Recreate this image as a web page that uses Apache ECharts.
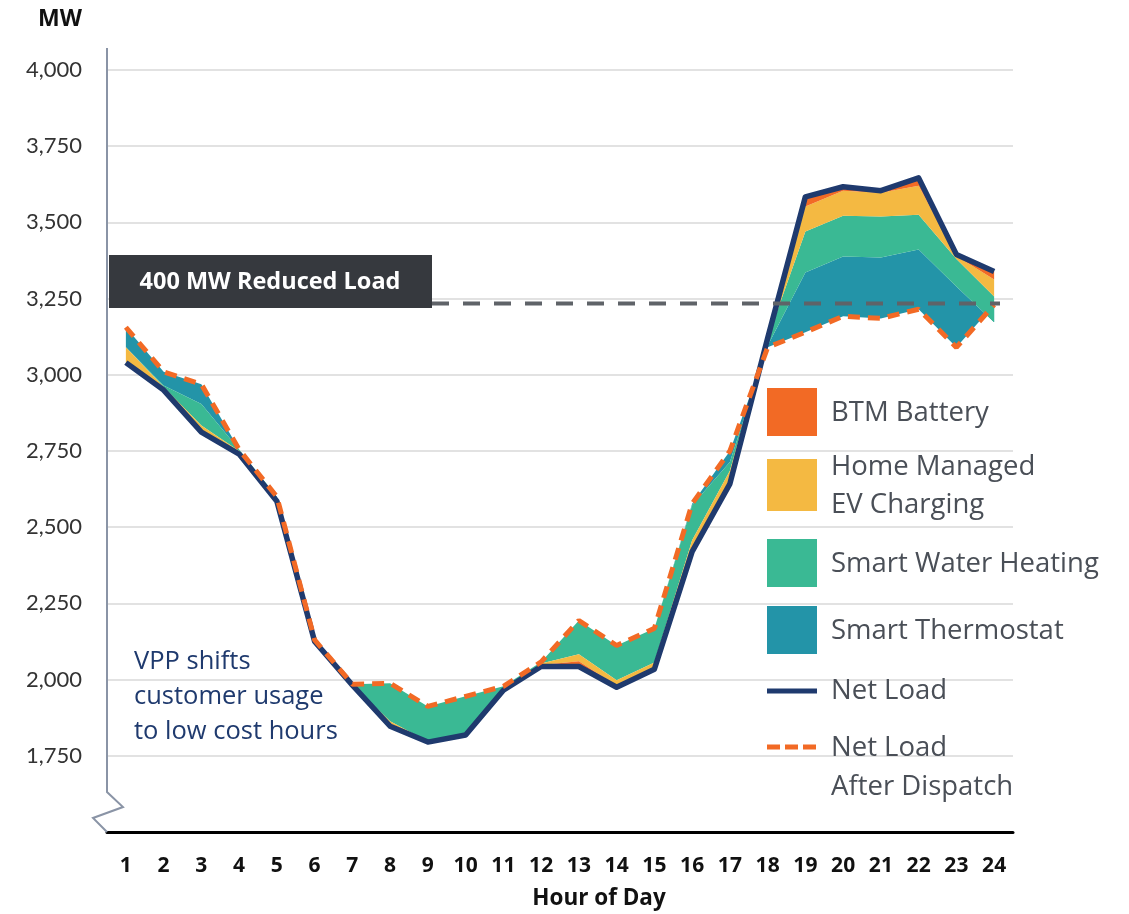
<!DOCTYPE html>
<html>
<head>
<meta charset="utf-8">
<title>VPP Net Load</title>
<script src="https://cdn.jsdelivr.net/npm/echarts@6/dist/echarts.min.js"></script>
<style>
  html, body { margin: 0; padding: 0; background: #fff; }
  #chart { width: 1129px; height: 914px; }
</style>
</head>
<body>
<div id="chart"></div>
<script>
// hours of the day
const hours = ['1','2','3','4','5','6','7','8','9','10','11','12','13','14','15','16','17','18','19','20','21','22','23','24'];
// MW
const netLoad       = [3040, 2950, 2812, 2740, 2585, 2125, 1982, 1847, 1795, 1818, 1965, 2043, 2043, 1975, 2034, 2420, 2642, 3120, 3584, 3617, 3604, 3646, 3395, 3339];
const afterDispatch = [3156, 3010, 2969, 2755, 2600, 2130, 1985, 1988, 1912, 1945, 1978, 2058, 2194, 2112, 2168, 2577, 2750, 3090, 3140, 3192, 3185, 3215, 3090, 3230];
// signed contributions, stacked from the after-dispatch line up/down to net load
const thermostat   = [-66, -45, -65,   0,   0,  0,  0,    0,    0,    0,   0,  0,    0,    0,    0,   -5, -36,  5, 196, 196, 200, 196, 200, -58];
const waterHeating = [  0,  -5, -70,  -5,  -5, -5, -3, -125, -115, -127, -13, -5, -111, -114, -112, -115, -29, 25, 134, 134, 134, 114,  90,  85];
const evCharging   = [-50, -10, -22, -10, -10,  0,  0,   -8,   -2,    0,   0, -5,  -23,  -18,  -17,  -32, -33,  0,  82,  82,  78,  95,  10,  56];
const btmBattery   = [  0,   0,   0,   0,   0,  0,  0,   -8,    0,    0,   0, -5,  -17,   -5,   -5,   -5, -10,  0,  32,  13,   7,  26,   5,  26];
const reducedLevel = 3234;

const C = {
  battery: '#f26a25',
  ev: '#f4b942',
  water: '#3ab994',
  thermo: '#2394a8',
  net: '#1f3a6e',
  after: '#f26a25'
};

const chart = echarts.init(document.getElementById('chart'));

function areaSeries(name, data, color) {
  return {
    name: name,
    type: 'line',
    data: data,
    stack: 'vpp',
    stackStrategy: 'all',
    symbol: 'none',
    lineStyle: { width: 0 },
    areaStyle: { color: color, opacity: 1 },
    emphasis: { disabled: true },
    z: 2
  };
}

const option = {
  animation: false,
  backgroundColor: '#fff',
  grid: { left: 107, right: 116, top: 70, bottom: 82 },
  xAxis: {
    type: 'category',
    data: hours,
    boundaryGap: true,
    axisLine: { lineStyle: { color: '#000', width: 3 } },
    axisTick: { show: false },
    axisLabel: { margin: 24, color: '#111', fontSize: 21, fontWeight: 'bold', fontFamily: 'Open Sans' },
    splitLine: { show: false }
  },
  yAxis: {
    type: 'value',
    min: 1500,
    max: 4000,
    interval: 250,
    axisLine: { show: false },
    axisTick: { show: false },
    axisLabel: {
      margin: 25,
      color: '#333',
      fontSize: 22,
      fontFamily: 'Lato',
      formatter: function (v) { return v === 1500 ? '' : v.toLocaleString('en-US'); }
    },
    splitLine: { lineStyle: { color: '#e2e2e2', width: 2 } }
  },
  series: [
    {
      name: 'base',
      type: 'line',
      data: afterDispatch,
      stack: 'vpp',
      stackStrategy: 'all',
      symbol: 'none',
      lineStyle: { opacity: 0 },
      silent: true
    },
    areaSeries('Smart Thermostat', thermostat, C.thermo),
    areaSeries('Smart Water Heating', waterHeating, C.water),
    areaSeries('Home Managed EV Charging', evCharging, C.ev),
    areaSeries('BTM Battery', btmBattery, C.battery),
    {
      name: 'Net Load',
      type: 'line',
      data: netLoad,
      symbol: 'none',
      lineStyle: { color: C.net, width: 5.5, join: 'round' },
      z: 3
    },
    {
      name: 'Net Load After Dispatch',
      type: 'line',
      data: afterDispatch,
      symbol: 'none',
      lineStyle: { color: C.after, width: 5, type: [12, 8] },
      z: 4
    }
  ]
};

chart.setOption(option);

// annotation, custom axis line with break, legend
const yRef = chart.convertToPixel({ yAxisIndex: 0 }, reducedLevel);
const legendFont = '27.5px "Open Sans"';
const legendColor = '#4a4f57';
const noteFont = '25.5px "Open Sans"';

function swatch(y1, y2, color) {
  return { type: 'rect', shape: { x: 767, y: y1, width: 50, height: y2 - y1 }, style: { fill: color }, z: 100 };
}
function ltext(y, txt) {
  return { type: 'text', x: 831, y: y, style: { text: txt, font: legendFont, fill: legendColor, textVerticalAlign: 'middle' }, z: 100 };
}

chart.setOption({
  graphic: [
    // y axis line with break
    { type: 'polyline', shape: { points: [[107, 48], [107, 792], [123, 807], [93, 818], [107, 832]] },
      style: { stroke: '#8a94a6', lineWidth: 2, fill: null }, z: 100 },
    { type: 'text', x: 60, y: 19, style: { text: 'MW', font: 'bold 23px "Open Sans"', fill: '#111', textAlign: 'center', textVerticalAlign: 'middle' }, z: 100 },
    // reduced load marker
    { type: 'line', shape: { x1: 432, y1: yRef, x2: 1000, y2: yRef },
      style: { stroke: '#5f6368', lineWidth: 4, lineDash: [17, 14] }, z: 100 },
    { type: 'rect', shape: { x: 109, y: 255, width: 323, height: 53 }, style: { fill: '#36393e' }, z: 100 },
    { type: 'text', x: 270, y: 282, style: { text: '400 MW Reduced Load', font: 'bold 23.5px "Open Sans"', fill: '#fff', textAlign: 'center', textVerticalAlign: 'middle' }, z: 101 },
    // VPP note
    { type: 'text', x: 134, y: 662, style: { text: 'VPP shifts', font: noteFont, fill: C.net, textVerticalAlign: 'middle' }, z: 100 },
    { type: 'text', x: 134, y: 697, style: { text: 'customer usage', font: noteFont, fill: C.net, textVerticalAlign: 'middle' }, z: 100 },
    { type: 'text', x: 134, y: 732, style: { text: 'to low cost hours', font: noteFont, fill: C.net, textVerticalAlign: 'middle' }, z: 100 },
    // x axis name
    { type: 'text', x: 599, y: 899, style: { text: 'Hour of Day', font: 'bold 22.5px "Open Sans"', fill: '#111', textAlign: 'center', textVerticalAlign: 'middle' }, z: 100 },
    // legend
    swatch(388, 436, C.battery), ltext(413, 'BTM Battery'),
    swatch(459, 511, C.ev), ltext(467, 'Home Managed'), ltext(505, 'EV Charging'),
    swatch(539, 587, C.water), ltext(564, 'Smart Water Heating'),
    swatch(606, 654, C.thermo), ltext(631, 'Smart Thermostat'),
    { type: 'line', shape: { x1: 767, y1: 691, x2: 817, y2: 691 }, style: { stroke: C.net, lineWidth: 5 }, z: 100 },
    ltext(691, 'Net Load'),
    { type: 'line', shape: { x1: 767, y1: 747, x2: 817, y2: 747 }, style: { stroke: C.after, lineWidth: 5, lineDash: [13, 5] }, z: 100 },
    ltext(748, 'Net Load'), ltext(787, 'After Dispatch')
  ]
});
</script>
</body>
</html>
